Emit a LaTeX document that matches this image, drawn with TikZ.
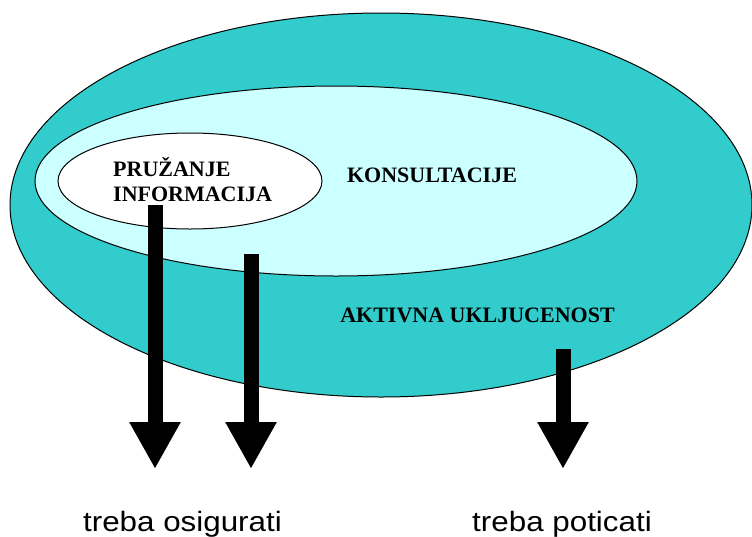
\documentclass[tikz,border=0pt]{standalone}
\usepackage{fontspec}
\setmainfont{Liberation Serif}
\newfontfamily\labelsans{Liberation Sans}
\usetikzlibrary{shapes.geometric,arrows.meta}
\definecolor{tealfill}{HTML}{33CCCC}
\definecolor{paleCyan}{HTML}{CCFFFF}
\tikzset{
  ring/.style={ellipse, draw=black, line width=1pt, inner sep=0pt},
  levelname/.style={font=\bfseries\fontsize{22}{25}\selectfont, inner sep=0pt},
  bigarrow/.style={line width=15pt, -{Triangle[width=48pt,length=47pt]}},
  footnote/.style={font=\labelsans\fontsize{28}{32}\selectfont, inner sep=0pt, anchor=base}
}
\begin{document}
\begin{tikzpicture}[x=1pt,y=-1pt]
  \useasboundingbox (0,0) rectangle (752,536);
  % nested ellipses
  \node[ring, fill=tealfill, minimum width=742pt, minimum height=384pt] (outer) at (381,205) {};
  \node[ring, fill=paleCyan, minimum width=602pt, minimum height=190pt] (middle) at (336,181) {};
  \node[ring, fill=white, minimum width=264pt, minimum height=96pt] (inner) at (190,181) {};
  % arrows
  \coordinate (a1) at (155,205);
  \coordinate (t1) at (155,469);
  \coordinate (a2) at (251,254);
  \coordinate (t2) at (251,469);
  \coordinate (a3) at (563,349);
  \coordinate (t3) at (563,469);
  \draw[bigarrow] (a1) -- (t1);
  \draw[bigarrow] (a2) -- (t2);
  \draw[bigarrow] (a3) -- (t3);
  % level names
  \node[levelname, anchor=base west, align=left] (info) at (113,201) {PRUŽANJE\\INFORMACIJA};
  \node[levelname, anchor=base] (kons) at (432,182) {KONSULTACIJE};
  \node[levelname, anchor=base] (akt) at (477.5,322) {AKTIVNA UKLJUCENOST};
  % captions
  \node[footnote] (osig) at (182.5,531) {\scalebox{1.12}[1]{treba osigurati}};
  \node[footnote] (potic) at (562,531) {\scalebox{1.12}[1]{treba poticati}};
\end{tikzpicture}
\end{document}
